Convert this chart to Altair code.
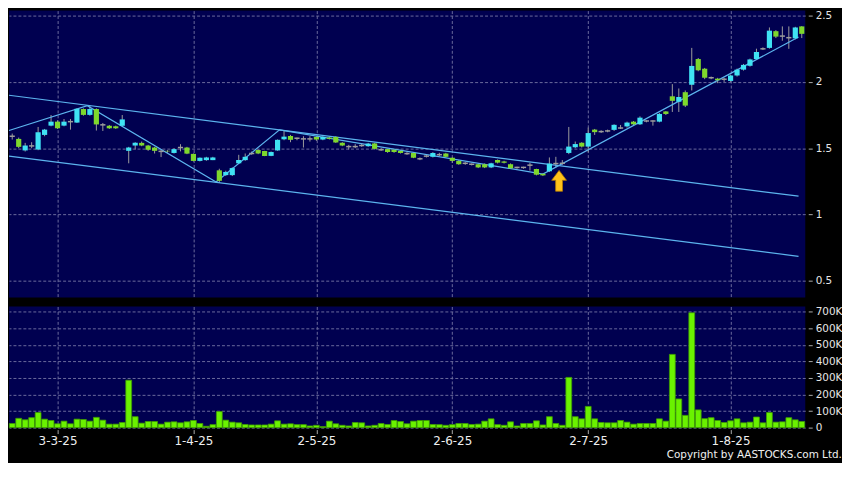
import json
import altair as alt
import pandas as pd

# ---------------- data ----------------
opens = [1.59, 1.57, 1.483, 1.517, 1.49, 1.60, 1.67, 1.70, 1.67, 1.70,
         1.693, 1.795, 1.751, 1.795, 1.676, 1.669, 1.665, 1.669, 1.48, 1.52,
         1.54, 1.52, 1.505, 1.476, 1.48, 1.464, 1.505, 1.505, 1.457, 1.404,
         1.41, 1.41, 1.333, 1.297, 1.297, 1.386, 1.41, 1.46, 1.486, 1.478,
         1.442, 1.483, 1.567, 1.592, 1.575, 1.57, 1.57, 1.585, 1.565, 1.58,
         1.585, 1.541, 1.512, 1.512, 1.52, 1.515, 1.536, 1.488, 1.493, 1.488,
         1.48, 1.459, 1.464, 1.42, 1.44, 1.435, 1.451, 1.46, 1.428, 1.404,
         1.386, 1.379, 1.379, 1.379, 1.355, 1.411, 1.40, 1.379, 1.355, 1.355,
         1.372, 1.343, 1.307, 1.326, 1.384, 1.386, 1.464, 1.507, 1.541, 1.512,
         1.64, 1.625, 1.63, 1.638, 1.652, 1.664, 1.70, 1.68, 1.705, 1.705,
         1.70, 1.777, 1.891, 1.85, 1.922, 1.978, 2.172, 2.099, 2.031, 2.024,
         2.02, 2.007, 2.048, 2.092, 2.121, 2.172, 2.249, 2.256, 2.382, 2.345,
         2.333, 2.328, 2.418]
closes = [1.59, 1.51, 1.52, 1.517, 1.62, 1.64, 1.70, 1.65, 1.70, 1.70,
          1.797, 1.751, 1.795, 1.679, 1.676, 1.65, 1.65, 1.717, 1.505, 1.541,
          1.52, 1.488, 1.48, 1.476, 1.476, 1.493, 1.505, 1.459, 1.404, 1.428,
          1.43, 1.43, 1.254, 1.321, 1.35, 1.411, 1.435, 1.46, 1.46, 1.442,
          1.471, 1.563, 1.587, 1.563, 1.575, 1.57, 1.57, 1.565, 1.585, 1.57,
          1.543, 1.52, 1.512, 1.512, 1.52, 1.535, 1.495, 1.488, 1.471, 1.471,
          1.464, 1.459, 1.428, 1.42, 1.44, 1.464, 1.451, 1.435, 1.404, 1.379,
          1.386, 1.379, 1.355, 1.355, 1.386, 1.391, 1.39, 1.348, 1.355, 1.355,
          1.372, 1.30, 1.295, 1.384, 1.384, 1.386, 1.512, 1.531, 1.512, 1.614,
          1.621, 1.625, 1.63, 1.676, 1.652, 1.693, 1.68, 1.73, 1.705, 1.705,
          1.758, 1.758, 1.857, 1.886, 1.821, 2.12, 2.087, 2.031, 2.031, 2.012,
          2.02, 2.048, 2.092, 2.128, 2.169, 2.225, 2.249, 2.386, 2.341, 2.345,
          2.333, 2.41, 2.362]
highs = [1.61, 1.58, 1.54, 1.545, 1.66, 1.645, 1.75, 1.71, 1.72, 1.72,
         1.80, 1.80, 1.82, 1.80, 1.69, 1.675, 1.67, 1.75, 1.51, 1.545,
         1.55, 1.525, 1.51, 1.49, 1.485, 1.50, 1.53, 1.51, 1.46, 1.43,
         1.435, 1.435, 1.345, 1.33, 1.355, 1.45, 1.46, 1.475, 1.49, 1.48,
         1.475, 1.566, 1.63, 1.60, 1.58, 1.59, 1.59, 1.59, 1.59, 1.585,
         1.59, 1.545, 1.525, 1.53, 1.535, 1.54, 1.54, 1.50, 1.495, 1.49,
         1.485, 1.47, 1.47, 1.43, 1.45, 1.47, 1.465, 1.465, 1.43, 1.41,
         1.395, 1.385, 1.38, 1.385, 1.39, 1.415, 1.405, 1.385, 1.36, 1.36,
         1.39, 1.345, 1.31, 1.43, 1.435, 1.41, 1.66, 1.55, 1.545, 1.655,
         1.645, 1.635, 1.64, 1.68, 1.675, 1.70, 1.705, 1.74, 1.71, 1.71,
         1.765, 1.78, 1.983, 1.95, 1.935, 2.256, 2.18, 2.105, 2.04, 2.03,
         2.03, 2.055, 2.10, 2.135, 2.175, 2.25, 2.26, 2.41, 2.39, 2.418,
         2.418, 2.415, 2.42]
lows = [1.565, 1.50, 1.475, 1.50, 1.485, 1.59, 1.665, 1.645, 1.665, 1.64,
        1.69, 1.745, 1.745, 1.633, 1.63, 1.645, 1.645, 1.665, 1.386, 1.49,
        1.515, 1.48, 1.46, 1.433, 1.465, 1.46, 1.476, 1.455, 1.40, 1.40,
        1.405, 1.41, 1.24, 1.29, 1.29, 1.38, 1.405, 1.45, 1.455, 1.44,
        1.44, 1.48, 1.56, 1.545, 1.56, 1.505, 1.55, 1.555, 1.56, 1.565,
        1.54, 1.515, 1.49, 1.50, 1.51, 1.51, 1.49, 1.48, 1.465, 1.465,
        1.46, 1.45, 1.425, 1.41, 1.43, 1.43, 1.44, 1.43, 1.39, 1.375,
        1.375, 1.37, 1.35, 1.35, 1.35, 1.385, 1.385, 1.345, 1.345, 1.345,
        1.331, 1.295, 1.29, 1.32, 1.355, 1.375, 1.455, 1.50, 1.505, 1.469,
        1.60, 1.615, 1.62, 1.63, 1.645, 1.655, 1.675, 1.675, 1.695, 1.67,
        1.695, 1.75, 1.773, 1.773, 1.81, 1.935, 2.08, 2.02, 2.02, 1.99,
        2.0, 2.0, 2.04, 2.085, 2.115, 2.165, 2.24, 2.25, 2.33, 2.31,
        2.249, 2.32, 2.33]
volumes_k = [25, 56, 47, 60, 91, 51, 43, 23, 39, 23,
             51, 49, 39, 62, 45, 21, 21, 31, 286, 66,
             27, 37, 37, 21, 33, 35, 29, 35, 43, 25,
             8, 18, 97, 45, 33, 29, 19, 16, 16, 16,
             21, 41, 21, 23, 18, 18, 10, 14, 6, 39,
             23, 14, 10, 31, 29, 10, 14, 25, 19, 43,
             37, 23, 39, 43, 43, 19, 18, 14, 18, 25,
             25, 19, 21, 39, 53, 18, 14, 35, 10, 25,
             25, 41, 16, 66, 25, 14, 303, 66, 53, 128,
             53, 31, 29, 29, 43, 33, 21, 25, 25, 25,
             53, 39, 442, 173, 74, 693, 107, 54, 60, 43,
             31, 41, 53, 29, 33, 64, 29, 91, 33, 35,
             60, 47, 37]

tick_idx = [7, 28, 47, 68, 89, 111]
tick_labels = ["3-3-25", "1-4-25", "2-5-25", "2-6-25", "2-7-25", "1-8-25"]
price_ticks = [0.5, 0.75, 1.0, 1.25, 1.5, 1.75, 2.0, 2.25, 2.5]
vol_ticks = [0, 100000, 200000, 300000, 400000, 500000, 600000, 700000]

zigzag_x = [-0.5, 11.6, 31.5, 41.3, 82.0, 121.5]
zigzag_y = [1.633, 1.82, 1.245, 1.638, 1.305, 2.338]
upper_x = [-0.5, 121.5]
upper_y = [1.899, 1.138]
lower_x = [-0.5, 121.5]
lower_y = [1.44, 0.685]
arrow_x = [84.5]
arrow_y = [1.254]

# ---------------- styling ----------------
BG = "#000000"
PANEL = "#000050"
GRID = "#6a6a9c"
CYAN = "#3fe2f4"
GREEN = "#7ed82c"
GRAY = "#9c9c9c"
LINE = "#5cb4ee"
VOL = "#6af200"
VOL_EDGE = "#3f9e00"
FONT = "DejaVu Sans"

n = len(opens)
df = pd.DataFrame({
    "i": list(range(n)),
    "open": opens,
    "close": closes,
    "high": highs,
    "low": lows,
    "vol": [v * 1000 for v in volumes_k],
})
df["dir"] = ["up" if c > o else ("down" if c < o else "flat") for o, c in zip(opens, closes)]

lines_df = pd.concat([
    pd.DataFrame({"x": zigzag_x, "y": zigzag_y, "line": "zigzag", "k": range(len(zigzag_x))}),
    pd.DataFrame({"x": upper_x, "y": upper_y, "line": "upper", "k": range(len(upper_x))}),
    pd.DataFrame({"x": lower_x, "y": lower_y, "line": "lower", "k": range(len(lower_x))}),
])
arrow_df = pd.DataFrame({"x": arrow_x, "y": arrow_y})

xscale = alt.Scale(domain=[-0.5, 122.54], nice=False, zero=False)
pscale = alt.Scale(domain=[0.374, 2.537], nice=False, zero=False)
vscale = alt.Scale(domain=[0, 731000], nice=False, zero=False)

label_expr = "{}[indexof({}, datum.value)]".format(json.dumps(tick_labels), json.dumps(tick_idx))

x_price_axis = alt.Axis(values=tick_idx, labels=False, ticks=False, domain=False, grid=True,
                        gridColor=GRID, gridDash=[3, 2], gridWidth=1)
x_vol_axis = alt.Axis(values=tick_idx, labelExpr=label_expr, grid=True, gridColor=GRID,
                      gridDash=[3, 2], gridWidth=1, domain=False, ticks=True, tickSize=4,
                      tickColor="#aaaaaa", offset=2, labelPadding=2, labelFont=FONT,
                      labelFontSize=12, labelColor="#eeeeee")
y_price_axis = alt.Axis(orient="right", values=price_ticks, format=".2~f", grid=True,
                        gridColor=GRID, gridDash=[3, 2], gridWidth=1, domain=False,
                        tickSize=4, tickColor="#aaaaaa", offset=3, labelPadding=3,
                        labelFont=FONT, labelFontSize=10.5, labelColor="#e6e6e6")
y_vol_axis = alt.Axis(orient="right", values=vol_ticks,
                      labelExpr="datum.value == 0 ? '0' : format(datum.value / 1000, 'd') + 'K'",
                      grid=True, gridColor=GRID, gridDash=[3, 2], gridWidth=1, domain=False,
                      tickSize=4, tickColor="#aaaaaa", offset=3, labelPadding=3,
                      labelFont=FONT, labelFontSize=10.5, labelColor="#e6e6e6")

base = alt.Chart(df).transform_calculate(x1="datum.i - 0.4", x2="datum.i + 0.4")

wicks = base.mark_rule(color=GRAY, strokeWidth=1).encode(
    x=alt.X("i:Q", scale=xscale, axis=x_price_axis, title=None),
    y=alt.Y("low:Q", scale=pscale, axis=y_price_axis, title=None),
    y2="high:Q",
)
bodies = base.transform_filter("datum.dir != 'flat'").mark_bar().encode(
    x=alt.X("x1:Q", scale=xscale),
    x2="x2:Q",
    y=alt.Y("open:Q", scale=pscale),
    y2="close:Q",
    color=alt.Color("dir:N", scale=alt.Scale(domain=["up", "down"], range=[CYAN, GREEN]), legend=None),
)
dojis = base.transform_filter("datum.dir == 'flat'").mark_rule(color=GRAY, strokeWidth=1.5).encode(
    x=alt.X("x1:Q", scale=xscale),
    x2="x2:Q",
    y=alt.Y("close:Q", scale=pscale),
)
trend = alt.Chart(lines_df).mark_line(color=LINE, strokeWidth=1.2, clip=True).encode(
    x=alt.X("x:Q", scale=xscale),
    y=alt.Y("y:Q", scale=pscale),
    detail="line:N",
    order="k:Q",
)
arrow_path = "M0,-1 L0.71,-0.05 L0.33,-0.05 L0.33,1 L-0.33,1 L-0.33,-0.05 L-0.71,-0.05 Z"
arrow = alt.Chart(arrow_df).mark_point(shape=arrow_path, filled=True, fill="#ffc21a",
                                       stroke="#b37a00", strokeWidth=0.8, size=441, opacity=1).encode(
    x=alt.X("x:Q", scale=xscale),
    y=alt.Y("y:Q", scale=pscale),
)

price = alt.layer(wicks, trend, bodies, dojis, arrow).properties(width=802, height=289)

volume = alt.Chart(df).transform_calculate(
    x1="datum.i - 0.45", x2="datum.i + 0.45", zero="0"
).mark_bar(color=VOL, stroke=VOL_EDGE, strokeWidth=0.8).encode(
    x=alt.X("x1:Q", scale=xscale, axis=x_vol_axis, title=None),
    x2="x2:Q",
    y=alt.Y("vol:Q", scale=vscale, axis=y_vol_axis, title=None),
    y2="zero:Q",
).properties(width=802, height=122)

chart = alt.vconcat(price, volume, spacing=9).properties(
    background=BG,
    padding=0,
    title=alt.TitleParams(text="Copyright by AASTOCKS.com Ltd.", orient="bottom", anchor="end",
                          color="#f0f0f0", font=FONT, fontSize=10.5, fontWeight="normal", offset=4),
).configure_view(fill=PANEL, strokeWidth=0)

chart.save("out.html", embed_options={"renderer": "svg", "actions": False})
